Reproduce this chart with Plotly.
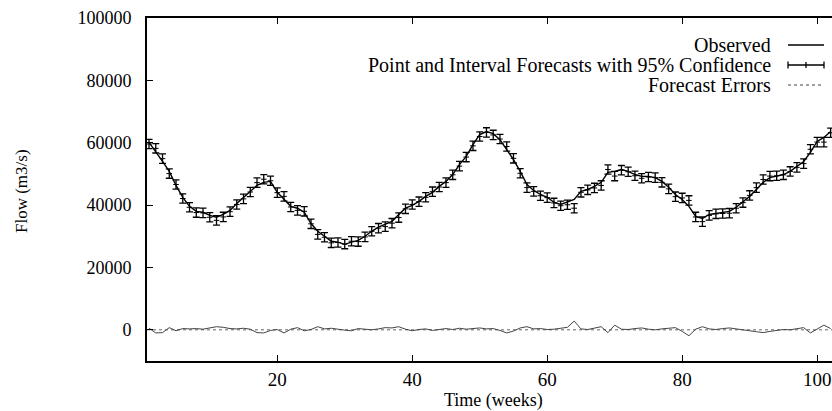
import plotly.graph_objects as go

weeks = list(range(1, 103))
observed = [
    60100, 57200, 54000, 50800, 46300, 42500, 39600, 38000, 37700, 36700,
    36100, 37000, 38300, 40500, 42500, 44400, 46300, 47300, 47600, 44100,
    41800, 39600, 39000, 37700, 34100, 31600, 30000, 28400, 28100, 27400,
    28100, 28700, 30000, 31600, 32900, 33800, 34800, 37000, 39000, 39900,
    41200, 42800, 44100, 46000, 47600, 49800, 53000, 55600, 59400, 62600,
    63600, 62900, 61000, 57800, 54600, 50800, 46600, 44700, 43400, 42500,
    40900, 40200, 40900, 41800, 44400, 45000, 46000, 47300, 50500, 50800,
    51400, 50800, 49800, 49200, 49200, 48800, 47600, 45700, 43400, 41800,
    39600, 36400, 35700, 37000, 37300, 37700, 38000, 39300, 40900, 42800,
    45000, 47300, 48800, 49200, 49800, 50800, 52400, 54000, 56900, 60400,
    61700, 63600,
]
errors = [
    500, -1000, -900, 700, -300, 400, 300, 400, 200, 600,
    1000, 800, 400, 300, 500, 200, -900, -1000, -200, 100,
    -1000, 200, 700, -300, 100, 1000, 300, 500, 100, -100,
    -300, 400, 200, 0, 300, 700, 600, 1000, 200, -300,
    100, 300, -200, 200, 400, 100, 500, 200, 400, 600,
    300, 400, -200, -1000, -400, 600, 1000, 300, 400, 100,
    200, 400, 800, 2800, 300, 100, 500, 1000, -900, 1500,
    200, 100, 400, 600, 200, 0, 300, 500, 700, -500,
    -1900, 200, 1000, 300, 100, 400, 600, 300, 100, -300,
    -600, -900, -500, -200, 100, 0, 300, 700, -1000, 200,
    1500, 400,
]
ci_half = 1500
forecast = [o - e for o, e in zip(observed, errors)]

y_ticks = [0, 20000, 40000, 60000, 80000, 100000]
x_ticks = [20, 40, 60, 80, 100]
legend_labels = ["Observed", "Point and Interval Forecasts with 95% Confidence", "Forecast Errors"]

FONT = "'Liberation Serif', 'DejaVu Serif', 'Times New Roman', serif"
W, H = 832, 411
L, R, T, B = 147, 0, 18, 50
PW, PH = W - L - R, H - T - B


def px(x):
    return (x - L) / PW


def py(y):
    return (H - B - y) / PH


fig = go.Figure()

fig.add_trace(go.Scatter(
    x=weeks, y=observed, mode="lines",
    line=dict(color="black", width=1.4), showlegend=False,
))
fig.add_trace(go.Scatter(
    x=weeks, y=forecast, mode="markers",
    marker=dict(symbol="line-ew", size=4, color="black", line=dict(width=1, color="black")),
    error_y=dict(type="constant", value=ci_half, color="black", thickness=1.3, width=3.5),
    showlegend=False,
))
fig.add_trace(go.Scatter(
    x=weeks, y=errors, mode="lines",
    line=dict(color="#444", width=1), showlegend=False,
))

shapes = [
    dict(type="line", xref="paper", yref="y", x0=0, x1=1, y0=0, y1=0,
         line=dict(color="#666", width=1, dash="dot"), layer="below"),
]
annotations = []
leg_y = [45, 65, 85]
text_right = 773
s0, s1 = 788, 824
for lab, yy in zip(legend_labels, leg_y):
    annotations.append(dict(
        text=lab, xref="paper", yref="paper", x=px(text_right), y=py(yy),
        xanchor="right", yanchor="middle", showarrow=False,
        font=dict(family=FONT, size=20, color="black"),
    ))
# legend samples
shapes.append(dict(type="line", xref="paper", yref="paper", x0=px(s0), x1=px(s1),
                   y0=py(leg_y[0]), y1=py(leg_y[0]), line=dict(color="black", width=1.4)))
shapes.append(dict(type="line", xref="paper", yref="paper", x0=px(s0), x1=px(s1),
                   y0=py(leg_y[1]), y1=py(leg_y[1]), line=dict(color="black", width=1.3)))
for xx in (s0, s1):
    shapes.append(dict(type="line", xref="paper", yref="paper", x0=px(xx), x1=px(xx),
                       y0=py(leg_y[1] - 3.5), y1=py(leg_y[1] + 3.5), line=dict(color="black", width=1.3)))
shapes.append(dict(type="line", xref="paper", yref="paper", x0=px((s0 + s1) / 2), x1=px((s0 + s1) / 2),
                   y0=py(leg_y[1] - 3), y1=py(leg_y[1] + 3), line=dict(color="black", width=1.3)))
shapes.append(dict(type="line", xref="paper", yref="paper", x0=px(s0), x1=px(s1),
                   y0=py(leg_y[2]), y1=py(leg_y[2]), line=dict(color="#444", width=1.2, dash="dot")))

annotations.append(dict(
    text="Time (weeks)", xref="paper", yref="paper", x=px(493), y=py(400),
    xanchor="center", yanchor="middle", showarrow=False,
    font=dict(family=FONT, size=18, color="black"),
))
annotations.append(dict(
    text="Flow (m3/s)", xref="paper", yref="paper", x=px(22), y=py(191),
    xanchor="center", yanchor="middle", showarrow=False, textangle=-90,
    font=dict(family=FONT, size=17, color="black"),
))

fig.update_layout(
    width=W, height=H,
    margin=dict(l=L, r=R, t=T, b=B, pad=0),
    paper_bgcolor="white", plot_bgcolor="white",
    font=dict(family=FONT, size=18, color="black"),
    shapes=shapes, annotations=annotations,
    showlegend=False,
)
fig.update_xaxes(
    range=[0.7, 102.2], tickvals=x_ticks, ticktext=[str(v) for v in x_ticks],
    ticks="inside", ticklen=6, tickwidth=1.3, tickcolor="black",
    showline=True, linecolor="black", linewidth=2, mirror="ticks",
    showgrid=False, zeroline=False, tickfont=dict(family=FONT, size=19),
)
fig.update_yaxes(
    range=[-10000, 100000], tickvals=y_ticks, ticktext=[str(v) for v in y_ticks],
    ticks="inside", ticklen=6, tickwidth=1.3, tickcolor="black",
    showline=True, linecolor="black", linewidth=2,
    showgrid=False, zeroline=False, tickfont=dict(family=FONT, size=18),
    ticklabelstandoff=10,
)

fig.write_html("out.html")
